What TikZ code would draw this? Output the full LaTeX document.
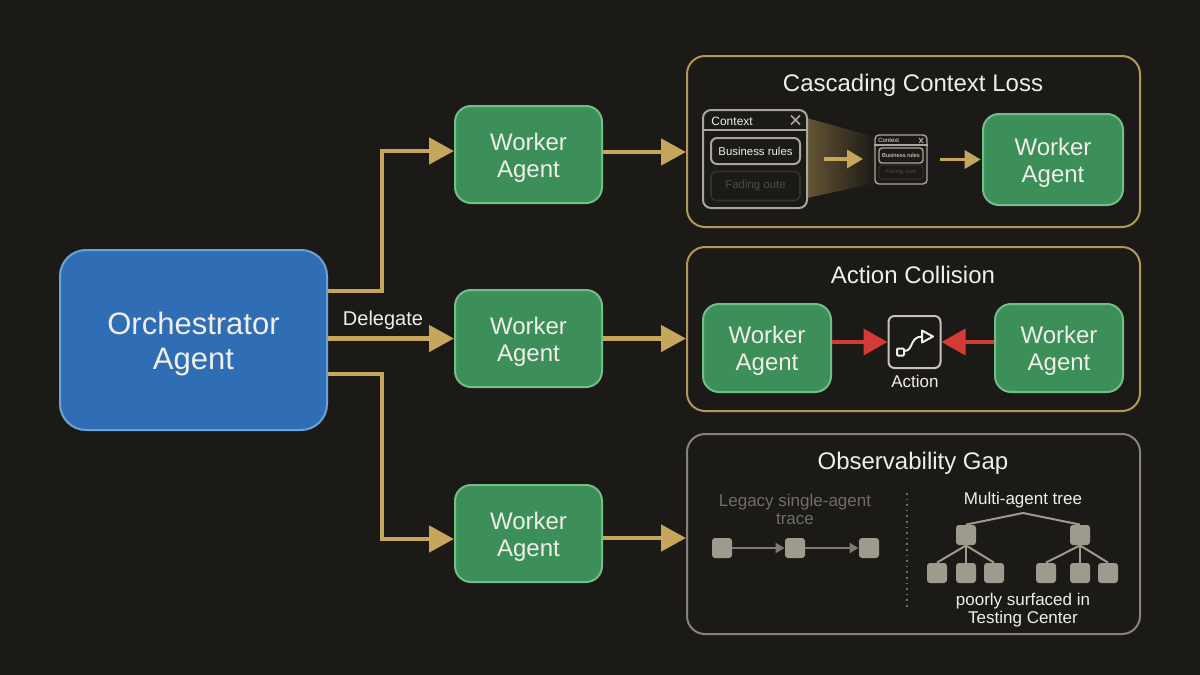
\documentclass[tikz,border=0pt]{standalone}
\usepackage{fontspec}
\setmainfont{Liberation Sans}
\usetikzlibrary{arrows.meta}
\definecolor{bgdark}{HTML}{1C1A17}
\definecolor{gold}{HTML}{C6A55C}
\definecolor{panelgold}{HTML}{B3975A}
\definecolor{panelgray}{HTML}{85837B}
\definecolor{wkfill}{HTML}{3C8F58}
\definecolor{wkline}{HTML}{74BC88}
\definecolor{orfill}{HTML}{2F6DB5}
\definecolor{orline}{HTML}{6BA2D9}
\definecolor{alarm}{HTML}{D43A36}
\definecolor{soft}{HTML}{F0EEE8}
\definecolor{chip}{HTML}{9E9A8E}
\definecolor{dimtext}{HTML}{6F6D65}
\definecolor{winline}{HTML}{A9A69B}
\newcommand{\wkname}{\rule{0pt}{11.5pt}Worker\\Agent}
\tikzset{
  flow/.style={gold, line width=2.4pt, -{Triangle[length=12.5pt,width=13pt]}},
  smallflow/.style={gold, line width=1.6pt, -{Triangle[length=8pt,width=9pt]}},
  clash/.style={alarm, line width=1.8pt, -{Triangle[length=12pt,width=13pt]}},
  worker/.style={draw=wkline, fill=wkfill, line width=1pt, rounded corners=8pt,
    text=soft, align=center, inner sep=0pt, font=\fontsize{12}{13.5}\selectfont},
  panel/.style={line width=1pt, rounded corners=9pt, minimum width=226.5pt, inner sep=0pt},
  heading/.style={text=soft, inner sep=0pt, text height=9pt, text depth=1pt, font=\fontsize{12}{14}\selectfont},
  chipbox/.style={fill=chip, rounded corners=1.5pt, minimum size=10pt, inner sep=0pt},
  note/.style={text=soft, align=center, inner sep=0pt, font=\fontsize{8.5}{9}\selectfont},
  link/.style={chip, line width=1pt},
}
\begin{document}
\begin{tikzpicture}[x=0.5pt, y=-0.5pt]
\useasboundingbox[fill=bgdark] (0,0) rectangle (1200,675);

\node[draw=orline, fill=orfill, line width=1pt, rounded corners=13pt, minimum width=133.5pt,
  minimum height=90pt, text=soft, align=center, inner sep=0pt,
  font=\fontsize{15.5}{17.5}\selectfont] (orch) at (193.5,340) {\rule{0pt}{15pt}Orchestrator\\Agent};

\node[worker, minimum width=73.5pt, minimum height=48.5pt] (wkA) at (528.5,154.5) {\wkname};
\node[worker, minimum width=73.5pt, minimum height=48.5pt] (wkB) at (528.5,338.5) {\wkname};
\node[worker, minimum width=73.5pt, minimum height=48.5pt] (wkC) at (528.5,533.5) {\wkname};

\node[panel, draw=panelgold, minimum height=85.5pt] (panA) at (913.5,141.5) {};
\node[panel, draw=panelgold, minimum height=82pt] (panB) at (913.5,329) {};
\node[panel, draw=panelgray, minimum height=100pt] (panC) at (913.5,534) {};

\coordinate (elbAlow) at (382,291);
\coordinate (elbAtop) at (382,151);
\coordinate (elbClow) at (382,539);
\coordinate (elbCtop) at (382,374);
\draw[flow] (orch.east |- elbAlow) -- (elbAlow) -- (elbAtop) -- (wkA.west |- elbAtop);
\draw[flow] (orch.east |- wkB.west) -- (wkB.west);
\draw[flow] (orch.east |- elbCtop) -- (elbCtop) -- (elbClow) -- (wkC.west |- elbClow);
\node[text=soft, inner sep=0pt, font=\fontsize{10}{12}\selectfont] (delegate) at (383,320) {Delegate};

\draw[flow] (wkA.east |- 0,152) -- (panA.west |- 0,152);
\draw[flow] (wkB.east) -- (panB.west |- wkB.east);
\draw[flow] (wkC.east |- 0,538) -- (panC.west |- 0,538);

% cascading context loss
\node[heading] (titleA) at (913,83) {Cascading Context Loss};
\shade[left color=gold!42!bgdark, right color=bgdark] (807,118) -- (875,137) -- (875,183) -- (807,198) -- cycle;
\node[draw=winline, fill=bgdark, line width=1pt, rounded corners=4pt, minimum width=52pt, minimum height=49pt, inner sep=0pt] (win) at (755,159) {};
\draw[winline, line width=1pt] (win.west |- 0,130) -- (win.east |- 0,130);
\node[text=soft, inner sep=0pt, anchor=west, font=\fontsize{6}{7}\selectfont] (winT) at (711,121.5) {Context};
\draw[winline, line width=0.8pt] (791,115.5) -- (800,124.5) (791,124.5) -- (800,115.5);
\node[draw=winline, line width=1pt, rounded corners=3pt, minimum width=44.5pt, minimum height=13pt, inner sep=0pt,
  text=soft, font=\fontsize{5.7}{7}\selectfont] (winB) at (755.5,151) {Business rules};
\node[draw=black!70!winline, line width=0.8pt, rounded corners=3pt, minimum width=44.5pt, minimum height=14.5pt, inner sep=0pt,
  text=black!55!winline, font=\fontsize{5.7}{7}\selectfont] (winF) at (755.5,186) {Fading oute};

\node[draw=winline, fill=bgdark, line width=0.7pt, rounded corners=2pt, minimum width=26pt, minimum height=24.5pt, inner sep=0pt] (tiny) at (901,159.5) {};
\draw[winline, line width=0.6pt] (tiny.west |- 0,145) -- (tiny.east |- 0,145);
\node[text=soft, inner sep=0pt, anchor=west, font=\fontsize{3}{4}\selectfont] (tinyT) at (878,140.5) {Context};
\draw[winline, line width=0.5pt] (919,138) -- (923,143) (919,143) -- (923,138);
\node[draw=winline, line width=0.7pt, rounded corners=1.5pt, minimum width=22pt, minimum height=7.5pt, inner sep=0pt,
  text=soft, font=\fontsize{2.9}{4}\selectfont] (tinyB) at (901,155.5) {Business rules};
\node[draw=black!70!winline, line width=0.5pt, rounded corners=1.5pt, minimum width=22pt, minimum height=7pt, inner sep=0pt,
  text=black!55!winline, font=\fontsize{2.9}{4}\selectfont] (tinyF) at (901,172) {Fading oute};

\node[worker, minimum width=70pt, minimum height=45.5pt] (wkD) at (1053,159.5) {\wkname};
\draw[smallflow] (win.east |- 0,0) ++(16,159) coordinate (fadeL) (fadeL) -- ++(39,0);
\draw[smallflow] (tiny.east |- wkD.west) ++(12,0) -- ++(41,0);

% action collision
\node[heading] (titleB) at (913,275) {Action Collision};
\node[worker, minimum width=64pt, minimum height=44pt] (wkE) at (767,348) {\wkname};
\node[worker, minimum width=64pt, minimum height=44pt] (wkF) at (1059,348) {\wkname};
\node[draw=winline!60!soft, line width=1pt, rounded corners=3pt, minimum size=26pt, inner sep=0pt] (act) at (914.5,342) {};
\node[note] (actL) at (915,381) {Action};
\draw[clash] (wkE.east |- act.west) -- (act.west);
\draw[clash] (wkF.west |- act.east) -- (act.east);
\draw[soft, line width=1pt, rounded corners=0.5pt] (897,348.5) rectangle (904,355.5);
\draw[soft, line width=1pt] (904,351) .. controls (914,351) and (909,337) .. (922,336.5);
\draw[soft, line width=1pt, line join=round] (922,330.5) -- (933,336.5) -- (922,342.5) -- cycle;

% observability gap
\node[heading] (titleC) at (913,461) {Observability Gap};
\node[note, text=dimtext] (legacy) at (795,509) {Legacy single-agent\\trace};
\node[chipbox] (seqA) at (722,548) {};
\node[chipbox] (seqB) at (795,548) {};
\node[chipbox] (seqC) at (869,548) {};
\draw[link, chip!75!bgdark, -{Triangle[length=4.5pt,width=5pt]}] (seqA) -- (seqB);
\draw[link, chip!75!bgdark, -{Triangle[length=4.5pt,width=5pt]}] (seqB) -- (seqC);
\coordinate (splitT) at (907,493);
\coordinate (splitB) at (907,608);
\draw[dimtext, line width=0.8pt, dotted] (splitT) -- (splitB);
\node[note] (multi) at (1023,500) {Multi-agent tree};
\coordinate (treeTop) at (1023,513);
\node[chipbox] (parA) at (966,535) {};
\node[chipbox] (parB) at (1080,535) {};
\foreach \nm/\xx in {leafA/937, leafB/966, leafC/994, leafD/1046, leafE/1080, leafF/1108}
  \node[chipbox] (\nm) at (\xx,573) {};
\draw[link] (treeTop) -- (parA.north);
\draw[link] (treeTop) -- (parB.north);
\foreach \nm in {leafA, leafB, leafC}
  \draw[link] (parA.south) -- (\nm.north);
\foreach \nm in {leafD, leafE, leafF}
  \draw[link] (parB.south) -- (\nm.north);
\node[note] (poor) at (1023,610) {poorly surfaced in\\Testing Center};
\end{tikzpicture}
\end{document}
